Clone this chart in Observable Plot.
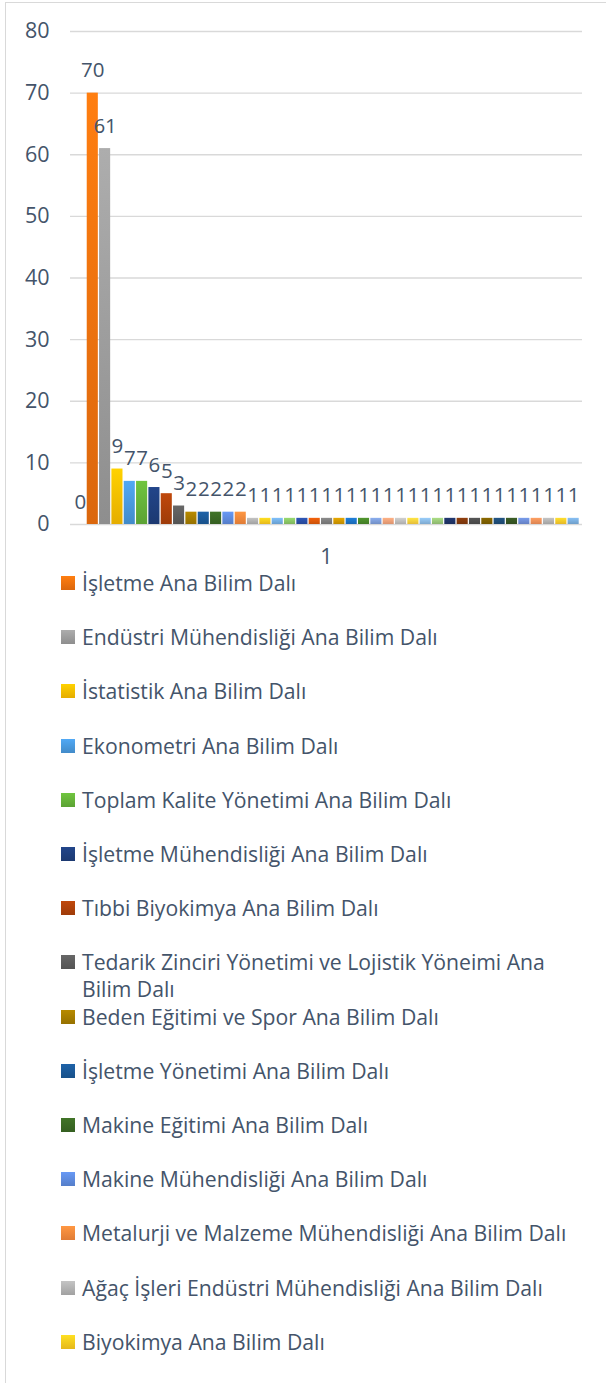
<!DOCTYPE html>
<html><head><meta charset="utf-8">
<script src="https://cdn.jsdelivr.net/npm/d3@7"></script>
<script src="https://cdn.jsdelivr.net/npm/@observablehq/plot@0.6"></script>
<style>
body{margin:0;background:#fff;font-family:"Open Sans",sans-serif;}
#wrap{position:relative;width:606px;height:1383px;overflow:hidden;background:#fff;}
#frame{position:absolute;left:5px;top:2px;width:800px;height:1600px;border-left:1px solid #D9D9D9;border-top:1px solid #D9D9D9;}
#chart{position:absolute;left:0;top:0;}
.leg{position:absolute;left:82px;width:500px;font-size:21.2px;line-height:27px;color:#44546A;}
.sw{position:absolute;left:61px;width:14px;height:14px;}
</style></head><body>
<div id="wrap"><div id="frame"></div><div id="chart"></div><div id="legend"></div></div>
<script>
const category = ["1"];
const values = [0, 70, 61, 9, 7, 7, 6, 5, 3, 2, 2, 2, 2, 2,
  1, 1, 1, 1, 1, 1, 1, 1, 1, 1, 1, 1, 1, 1, 1, 1, 1, 1, 1, 1, 1, 1, 1, 1, 1, 1, 1];
const colors = ["#4472C4", "#F4730F", "#9E9E9E", "#FFC000", "#4A9BE0", "#66B43A", "#1F3F7E", "#B0420A",
  "#5E5E5E", "#A77E00", "#1B5A9A", "#3B6A25", "#5F8CE0", "#F98A3C",
  "#B3B3B3", "#FFCD1E", "#74B0E6", "#8CC866", "#2A4FA8", "#E05A0A", "#7F7F7F", "#D49A00", "#1C74C8", "#4A8A2A",
  "#7F9FDB", "#F4A37A", "#BFBFBF", "#FFD23F", "#8CBCE6", "#9CCB7A", "#1F3468", "#843A0C", "#4F4F4F", "#7F6000",
  "#1F4E79", "#375623", "#6F8FD8", "#F4925A", "#B4B4B4", "#FFCD2A", "#7CB0E0"];
const legendLabels = [
  "İşletme Ana Bilim Dalı",
  "Endüstri Mühendisliği Ana Bilim Dalı",
  "İstatistik Ana Bilim Dalı",
  "Ekonometri Ana Bilim Dalı",
  "Toplam Kalite Yönetimi Ana Bilim Dalı",
  "İşletme Mühendisliği Ana Bilim Dalı",
  "Tıbbi Biyokimya Ana Bilim Dalı",
  "Tedarik Zinciri Yönetimi ve Lojistik Yöneimi Ana Bilim Dalı",
  "Beden Eğitimi ve Spor Ana Bilim Dalı",
  "İşletme Yönetimi Ana Bilim Dalı",
  "Makine Eğitimi Ana Bilim Dalı",
  "Makine Mühendisliği Ana Bilim Dalı",
  "Metalurji ve Malzeme Mühendisliği Ana Bilim Dalı",
  "Ağaç İşleri Endüstri Mühendisliği Ana Bilim Dalı",
  "Biyokimya Ana Bilim Dalı"
];
const yTicks = [0, 10, 20, 30, 40, 50, 60, 70, 80];

const data = values.map((v, i) => ({cat: category[0], s: i, v: v}));
const textColor = "#44546A";

const plot = Plot.plot({
  width: 606, height: 570,
  marginLeft: 70, marginRight: 24, marginTop: 31, marginBottom: 46,
  style: {fontFamily: "'Open Sans', sans-serif", fontSize: "21.5px", color: textColor, background: "transparent"},
  fx: {domain: category, padding: 0, axis: "bottom", tickSize: 0, tickPadding: 24, label: null, round: false},
  x: {domain: d3.range(values.length), paddingInner: 0.1, paddingOuter: 0, insetLeft: 4.4, insetRight: 3.3, round: false, axis: null},
  y: {domain: [0, 80], ticks: yTicks, tickSize: 0, tickPadding: 21, label: null},
  color: {type: "identity"},
  marks: [
    Plot.gridY(yTicks, {stroke: "#D9D9D9", strokeOpacity: 1, strokeWidth: 1.3}),
    Plot.barY(data, {fx: "cat", x: "s", y: "v", fill: d => `url(#grad${d.s})`}),
    Plot.text(data, {fx: "cat", x: "s", y: "v", text: d => String(d.v), lineAnchor: "bottom", dy: -16, fill: textColor, fontSize: 20.5})
  ]
});
document.getElementById("chart").appendChild(plot);
const svg = d3.select(plot.tagName.toLowerCase() === "svg" ? plot : plot.querySelector("svg"));
const defs = svg.insert("defs", ":first-child");
colors.forEach((c, i) => {
  const g = defs.append("linearGradient").attr("id", "grad" + i)
    .attr("x1", 0).attr("y1", 0).attr("x2", 0).attr("y2", 1);
  g.append("stop").attr("offset", "0%").attr("stop-color", d3.color(c).brighter(0.25).formatHex());
  g.append("stop").attr("offset", "100%").attr("stop-color", d3.color(c).darker(0.3).formatHex());
});

const legend = document.getElementById("legend");
legendLabels.forEach((lab, i) => {
  const cy = 583 + i * 54.2;
  const c = d3.color(colors[i + 1]);
  const sw = document.createElement("div");
  sw.className = "sw";
  sw.style.top = (cy - 7) + "px";
  sw.style.background = `linear-gradient(${c.brighter(0.25).formatHex()}, ${c.darker(0.3).formatHex()})`;
  legend.appendChild(sw);
  const t = document.createElement("div");
  t.className = "leg";
  t.style.top = (cy - 14) + "px";
  t.textContent = lab;
  legend.appendChild(t);
});
</script>
</body></html>
